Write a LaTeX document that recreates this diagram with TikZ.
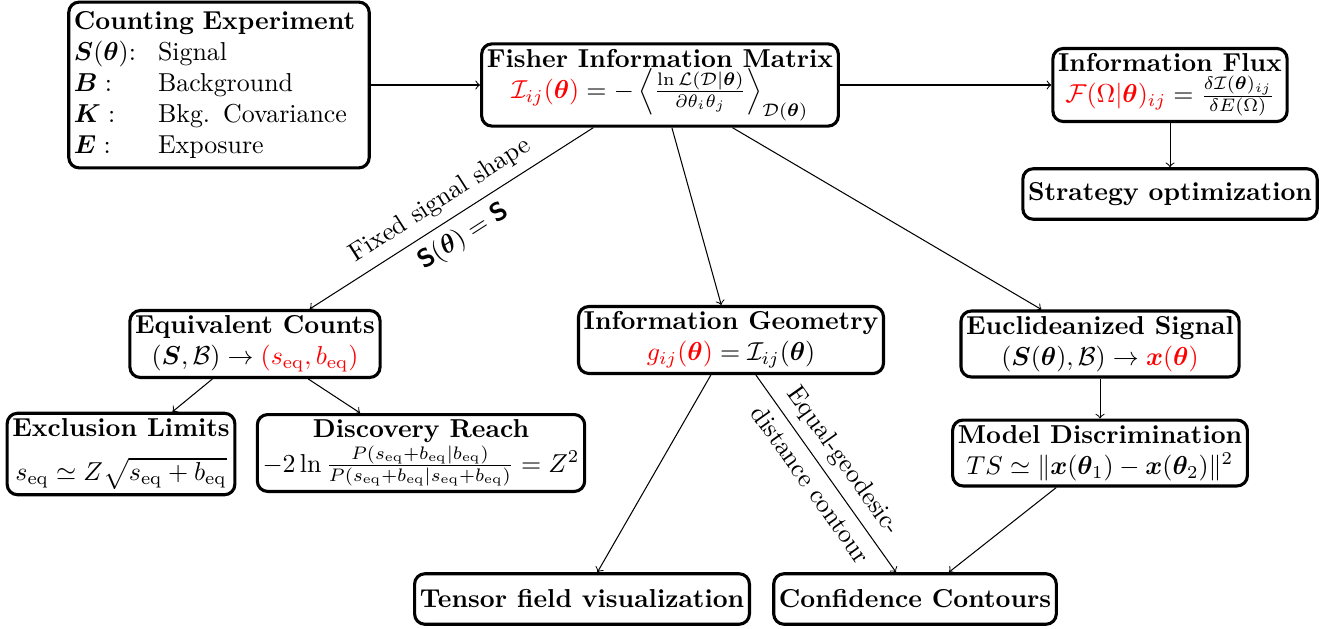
\documentclass[tikz,border=0pt]{standalone}
\usepackage{amsmath,amssymb,bm}
\begin{document}
\begin{tikzpicture}[x=0.3861pt,y=-0.3861pt,
  box/.style={draw, very thick, rounded corners=4pt, align=center, inner sep=2pt, minimum height=19.5pt},
  conn/.style={->},
  labA/.style={midway, sloped, above},
  labB/.style={midway, sloped, below}]
\useasboundingbox (0,0) rectangle (1332,628);
\node[box, align=left, text width=112pt] (count) at (219,85) {%
\begin{tabular}{@{}l@{\hspace{8.5pt}}l@{}}
\multicolumn{2}{@{}l@{}}{\textbf{Counting Experiment}}\\
$\bm{S}(\bm{\theta})$: & Signal\\
$\bm{B}:$ & Background\\
$\bm{K}:$ & Bkg. Covariance\\
$\bm{E}:$ & Exposure
\end{tabular}};
\node[box] (fisher) at (660,85) {\textbf{Fisher Information Matrix}\\
$\color{red}\mathcal{I}_{ij}(\bm{\theta})\color{black} = -\left\langle \frac{\ln\mathcal{L}(\mathcal{D}|\bm{\theta})}{\partial\theta_i\theta_j}\right\rangle_{\mathcal{D}(\bm{\theta})}$};
\node[box] (flux) at (1170,85) {\textbf{Information Flux}\\
${\color{red}\mathcal{F}(\Omega|\bm{\theta})_{ij}} = \frac{\delta\mathcal{I}(\bm{\theta})_{ij}}{\delta E(\Omega)}$};
\node[box] (strat) at (1170,194) {\textbf{Strategy optimization}};
\node[box] (equiv) at (255,344) {\textbf{Equivalent Counts}\\
$(\bm{S},\mathcal{B}) \to {\color{red}(s_{\mathrm{eq}}, b_{\mathrm{eq}})}$};
\node[box] (geom) at (731,340) {\textbf{Information Geometry}\\
${\color{red}g_{ij}(\bm{\theta})} = \mathcal{I}_{ij}(\bm{\theta})$};
\node[box] (eucl) at (1100,344) {\textbf{Euclideanized Signal}\\
$(\bm{S}(\bm{\theta}),\mathcal{B}) \to {\color{red}\bm{x}(\bm{\theta})}$};
\node[box] (excl) at (121,454) {\textbf{Exclusion Limits}\\[5pt]
$s_{\mathrm{eq}} \simeq Z\sqrt{s_{\mathrm{eq}}+b_{\mathrm{eq}}}$};
\node[box] (disc) at (421,453) {\textbf{Discovery Reach}\\
$-2\ln\frac{P(s_{\mathrm{eq}}+b_{\mathrm{eq}}|b_{\mathrm{eq}})}{P(s_{\mathrm{eq}}+b_{\mathrm{eq}}|s_{\mathrm{eq}}+b_{\mathrm{eq}})} = Z^2$};
\node[box] (model) at (1100,453) {\textbf{Model Discrimination}\\
$TS \simeq \|\bm{x}(\bm{\theta}_1) - \bm{x}(\bm{\theta}_2)\|^2$};
\node[box] (tensor) at (582,599) {\textbf{Tensor field visualization}};
\node[box] (conf) at (915,599) {\textbf{Confidence Contours}};
\draw[conn] (count) -- (fisher);
\draw[conn] (fisher) -- (flux);
\draw[conn] (flux) -- (strat);
\draw[conn] (fisher) -- node[labA]{Fixed signal shape} node[labB]{$\bm{\mathsf{S}}(\bm{\theta})=\bm{\mathsf{S}}$} (equiv);
\draw[conn] (fisher) -- (geom);
\draw[conn] (fisher) -- (eucl);
\draw[conn] (equiv) -- (excl);
\draw[conn] (equiv) -- (disc);
\draw[conn] (geom) -- (tensor);
\draw[conn] (geom) -- node[labA]{Equal-geodesic-} node[labB]{distance contour} (conf);
\draw[conn] (eucl) -- (model);
\draw[conn] (model) -- (conf);
\end{tikzpicture}
\end{document}
